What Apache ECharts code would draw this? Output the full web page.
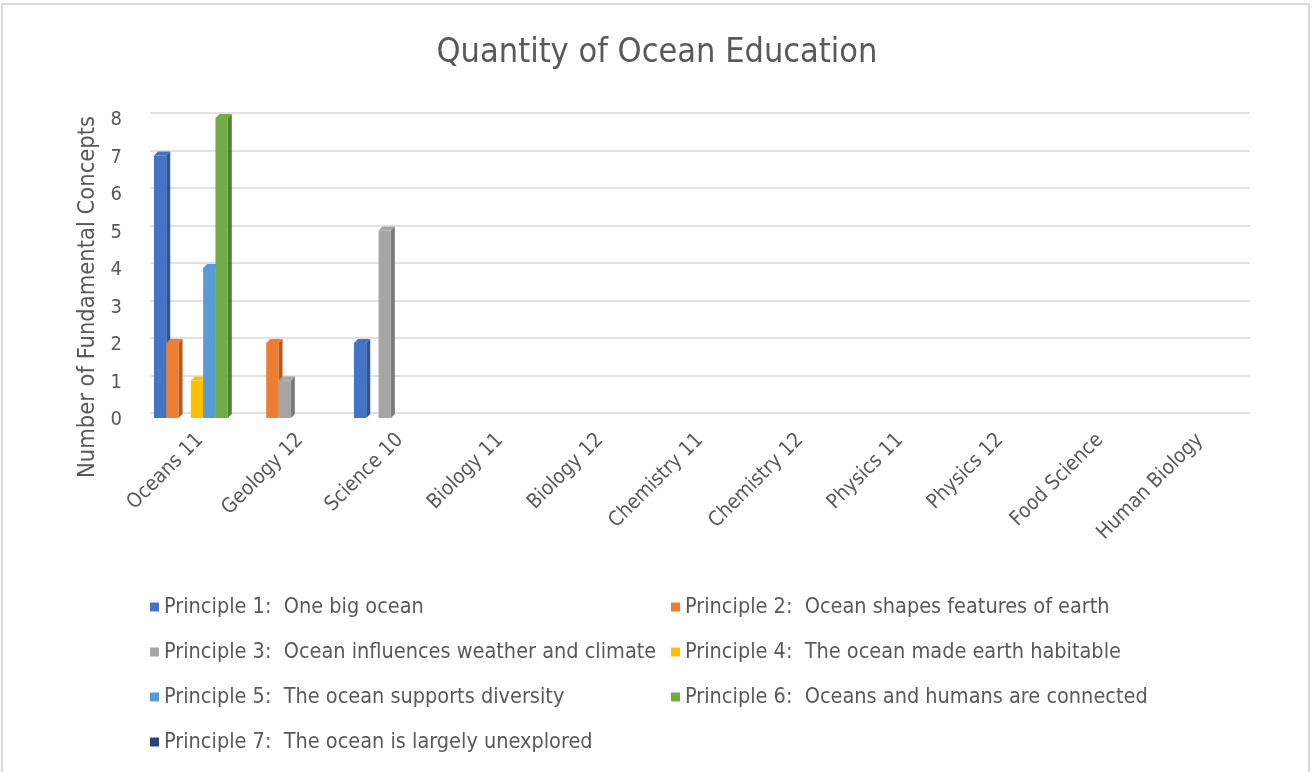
<!DOCTYPE html>
<html>
<head>
<meta charset="utf-8">
<script src="https://cdn.jsdelivr.net/npm/echarts@6/dist/echarts.min.js"></script>
<style>
  html, body { margin: 0; padding: 0; background: #fff; }
  #chart { width: 1314px; height: 772px; }
</style>
</head>
<body>
<div id="chart"></div>
<script>
var categories = ['Oceans 11', 'Geology 12', 'Science 10', 'Biology 11', 'Biology 12', 'Chemistry 11',
    'Chemistry 12', 'Physics 11', 'Physics 12', 'Food Science', 'Human Biology'];

var principleNames = [
    'Principle 1:  One big ocean',
    'Principle 2:  Ocean shapes features of earth',
    'Principle 3:  Ocean influences weather and climate',
    'Principle 4:  The ocean made earth habitable',
    'Principle 5:  The ocean supports diversity',
    'Principle 6:  Oceans and humans are connected',
    'Principle 7:  The ocean is largely unexplored'
];

var principle1 = [7, 0, 2, 0, 0, 0, 0, 0, 0, 0, 0];
var principle2 = [2, 2, 0, 0, 0, 0, 0, 0, 0, 0, 0];
var principle3 = [0, 1, 5, 0, 0, 0, 0, 0, 0, 0, 0];
var principle4 = [1, 0, 0, 0, 0, 0, 0, 0, 0, 0, 0];
var principle5 = [4, 0, 0, 0, 0, 0, 0, 0, 0, 0, 0];
var principle6 = [8, 0, 0, 0, 0, 0, 0, 0, 0, 0, 0];
var principle7 = [0, 0, 0, 0, 0, 0, 0, 0, 0, 0, 0];

var yTicks = [0, 1, 2, 3, 4, 5, 6, 7, 8];

var seriesValues = [principle1, principle2, principle3, principle4, principle5, principle6, principle7];
var frontColors = ['#4472C4', '#ED7D31', '#A5A5A5', '#FFC000', '#5B9BD5', '#70AD47', '#264478'];
var sideColors = ['#2F5597', '#B35A1F', '#7B7B7B', '#BF9000', '#3D7AB8', '#507E32', '#1A2F55'];

var textColor = '#595959';
var fontName = '"Liberation Sans Narrow", "DejaVu Sans Condensed", sans-serif';

var chart = echarts.init(document.getElementById('chart'));

// 3d-ish column: front face shifted down/left of the back wall, with side and top faces
function makeRender(idx) {
    return function (params, api) {
        var val = api.value(1);
        if (!val) {
            return;
        }
        var base = api.coord([api.value(0), 0]);
        var top = api.coord([api.value(0), val]);
        var bandW = api.size([1, 0])[0];
        var barW = bandW * 0.123;
        var x = base[0] - 3.5 * barW + idx * barW - 3;
        var y0 = base[1] + 5;
        var y1 = top[1] + 5;
        var d = 4;
        return {
            type: 'group',
            children: [
                {
                    type: 'polygon',
                    shape: { points: [[x + barW, y1], [x + barW + d, y1 - d], [x + barW + d, y0 - d], [x + barW, y0]] },
                    style: { fill: sideColors[idx] }
                },
                {
                    type: 'polygon',
                    shape: { points: [[x, y1], [x + d, y1 - d], [x + barW + d, y1 - d], [x + barW, y1]] },
                    style: { fill: frontColors[idx] }
                },
                {
                    type: 'rect',
                    shape: { x: x, y: y1, width: barW, height: y0 - y1 },
                    style: { fill: frontColors[idx] }
                }
            ]
        };
    };
}

var series = [];
for (var s = 0; s < seriesValues.length; s++) {
    var data = [];
    for (var i = 0; i < categories.length; i++) {
        data.push([i, seriesValues[s][i]]);
    }
    series.push({
        name: principleNames[s],
        type: 'custom',
        renderItem: makeRender(s),
        encode: { x: 0, y: 1 },
        itemStyle: { color: frontColors[s] },
        data: data
    });
}

option = {
    animation: false,
    title: {
        text: 'Quantity of Ocean Education',
        left: 'center',
        top: 31,
        textStyle: {
            color: textColor,
            fontSize: 34,
            fontWeight: 'normal',
            fontFamily: fontName
        }
    },
    legend: [
        {
            orient: 'vertical',
            left: 145,
            top: 591,
            icon: 'rect',
            itemWidth: 9,
            itemHeight: 9,
            itemGap: 23,
            textStyle: { color: textColor, fontSize: 21.5, lineHeight: 22, fontFamily: fontName },
            data: [principleNames[0], principleNames[2], principleNames[4], principleNames[6]]
        },
        {
            orient: 'vertical',
            left: 666,
            top: 591,
            icon: 'rect',
            itemWidth: 9,
            itemHeight: 9,
            itemGap: 23,
            textStyle: { color: textColor, fontSize: 21.5, lineHeight: 22, fontFamily: fontName },
            data: [principleNames[1], principleNames[3], principleNames[5]]
        }
    ],
    grid: {
        left: 150,
        right: 64,
        top: 113,
        bottom: 359
    },
    xAxis: {
        type: 'category',
        data: categories,
        axisLine: { show: false },
        axisTick: { show: false },
        axisLabel: {
            interval: 0,
            rotate: 45,
            margin: 24,
            color: textColor,
            fontSize: 20.5,
            fontFamily: fontName
        }
    },
    yAxis: {
        type: 'value',
        min: yTicks[0],
        max: yTicks[yTicks.length - 1],
        interval: 1,
        axisLine: { show: false },
        axisTick: { show: false },
        splitLine: { lineStyle: { color: '#d9d9d9', width: 1.5 } },
        axisLabel: {
            margin: 28,
            color: textColor,
            fontSize: 20,
            lineHeight: 14,
            verticalAlign: 'top',
            fontFamily: fontName
        }
    },
    graphic: [
        {
            type: 'text',
            x: 88,
            y: 297,
            rotation: Math.PI / 2,
            style: {
                text: 'Number of Fundamental Concepts',
                fill: textColor,
                fontSize: 23.5,
                fontFamily: fontName,
                align: 'center',
                verticalAlign: 'middle'
            }
        },
        {
            type: 'rect',
            shape: { x: 2, y: 4, width: 1307, height: 780 },
            style: { fill: 'none', stroke: '#d9d9d9', lineWidth: 2 },
            silent: true
        }
    ],
    series: series
};

chart.setOption(option);
</script>
</body>
</html>
